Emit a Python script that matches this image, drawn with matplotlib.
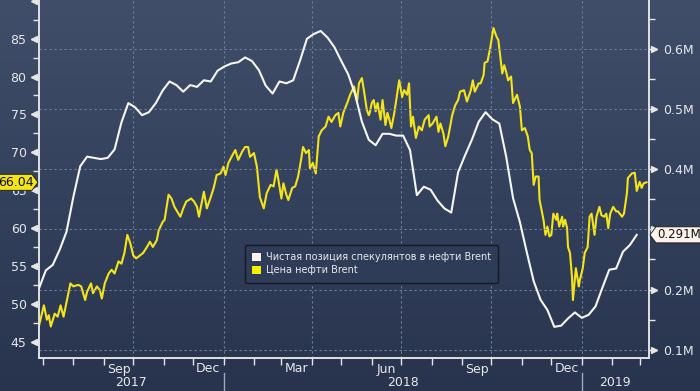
import numpy as np
import pandas as pd
import matplotlib
matplotlib.use('Agg')
import matplotlib.pyplot as plt
from matplotlib.patches import Patch, Polygon
from matplotlib.lines import Line2D
from matplotlib.ticker import MultipleLocator, FixedLocator, FuncFormatter
from matplotlib.transforms import blended_transform_factory, offset_copy, IdentityTransform
import matplotlib.dates as mdates

start = pd.Timestamp('2017-06-27')
x_end = pd.Timestamp('2019-03-10 12:00')

# net speculative position in Brent, weekly, millions of contracts
position = [0.202, 0.232, 0.241, 0.266, 0.296, 0.354, 0.405, 0.421, 0.419, 0.417,
            0.419, 0.433, 0.478, 0.510, 0.503, 0.490, 0.495, 0.510, 0.531, 0.546,
            0.540, 0.529, 0.540, 0.537, 0.548, 0.546, 0.564, 0.571, 0.576, 0.578,
            0.586, 0.580, 0.565, 0.539, 0.526, 0.546, 0.543, 0.548, 0.581, 0.617,
            0.625, 0.630, 0.619, 0.603, 0.580, 0.558, 0.525, 0.479, 0.449, 0.440,
            0.459, 0.459, 0.456, 0.456, 0.432, 0.357, 0.371, 0.366, 0.348, 0.335,
            0.328, 0.395, 0.423, 0.449, 0.479, 0.495, 0.483, 0.476, 0.421, 0.352,
            0.312, 0.262, 0.214, 0.183, 0.166, 0.138, 0.140, 0.152, 0.162, 0.153,
            0.158, 0.172, 0.203, 0.233, 0.235, 0.263, 0.274, 0.291]

# Brent price: days since start, USD
brent_day = [0, 5, 8, 10, 12, 16, 19, 22, 25, 32,
             35, 40, 43, 47, 49, 53, 55, 59, 62, 64,
             67, 71, 74, 77, 81, 84, 87, 90, 93, 96,
             99, 103, 106, 110, 113, 116, 120, 122, 126, 128,
             132, 135, 138, 144, 147, 150, 155, 158, 161, 163,
             168, 171, 174, 178, 181, 185, 188, 190, 193, 197,
             200, 203, 207, 210, 213, 215, 219, 222, 225, 229,
             232, 236, 239, 242, 244, 247, 249, 252, 254, 258,
             261, 264, 267, 269, 272, 275, 276, 279, 282, 285,
             288, 292, 295, 298, 302, 305, 307, 310, 314, 317,
             321, 324, 326, 329, 331, 334, 336, 337, 339, 341,
             343, 345, 348, 350, 353, 355, 357, 359, 362, 365,
             367, 370, 372, 375, 377, 379, 381, 384, 387, 390,
             393, 397, 398, 401, 405, 407, 409, 412, 414, 417,
             421, 424, 427, 429, 433, 436, 440, 442, 444, 448,
             450, 453, 454, 457, 460, 463, 466, 468, 470, 472,
             474, 476, 478, 481, 483, 487, 490, 492, 495, 498,
             500, 502, 504, 506, 509, 510, 512, 514, 516, 518,
             520, 522, 524, 527, 528, 530, 533, 534, 536, 538,
             539, 541, 543, 544, 547, 550, 551, 554, 556, 559,
             561, 563, 566, 568, 571, 573, 576, 578, 580, 582,
             585, 588, 590, 594, 596, 599, 600, 604, 607, 609,
             612, 614, 616, 619]
brent_price = [47.1, 49.8, 47.9, 48.5, 47.0, 48.7, 48.3, 49.8, 48.3, 52.7,
               52.3, 52.5, 52.3, 50.5, 51.6, 52.7, 51.4, 52.3, 51.8, 50.7,
               52.7, 54.0, 54.5, 54.0, 55.6, 55.3, 56.7, 59.1, 58.0, 56.4,
               56.0, 56.4, 56.7, 57.5, 58.2, 57.5, 58.4, 59.7, 60.8, 61.1,
               64.4, 63.9, 62.8, 61.5, 62.6, 63.5, 63.9, 63.5, 62.8, 61.5,
               64.8, 62.6, 63.7, 65.3, 67.0, 67.2, 68.1, 67.0, 68.6, 69.6,
               70.3, 69.0, 70.1, 70.7, 70.7, 69.4, 69.9, 68.1, 64.1, 62.6,
               64.6, 65.7, 65.5, 67.7, 66.3, 63.9, 65.9, 64.4, 63.7, 65.3,
               65.5, 66.8, 69.0, 70.7, 69.9, 70.3, 67.9, 68.6, 67.2, 72.1,
               72.9, 73.4, 74.7, 74.0, 74.9, 75.2, 73.4, 75.2, 76.5, 77.6,
               78.7, 76.7, 79.1, 79.8, 78.2, 75.6, 74.9, 75.2, 76.5, 76.9,
               75.4, 76.5, 74.3, 76.9, 73.6, 75.2, 74.3, 73.2, 75.2, 77.8,
               79.5, 77.3, 78.2, 77.6, 79.1, 73.4, 74.7, 71.9, 73.4, 72.9,
               74.3, 74.9, 73.4, 73.8, 74.7, 72.7, 73.8, 72.5, 70.8, 72.1,
               74.9, 76.2, 76.9, 78.0, 78.2, 76.7, 78.2, 79.5, 78.0, 79.1,
               79.1, 80.2, 81.8, 82.0, 84.0, 86.4, 85.3, 84.8, 82.6, 80.4,
               81.5, 80.6, 79.5, 80.0, 76.5, 77.6, 76.0, 72.9, 73.2, 72.1,
               70.3, 69.9, 65.7, 66.8, 66.8, 63.7, 62.4, 61.1, 59.1, 60.2,
               58.9, 59.1, 61.9, 61.1, 61.9, 60.2, 61.5, 60.2, 61.1, 60.0,
               57.5, 56.7, 53.6, 50.5, 54.7, 52.3, 53.1, 54.7, 56.7, 57.5,
               61.5, 61.9, 59.1, 61.5, 62.8, 61.7, 61.5, 61.9, 60.0, 61.9,
               62.8, 62.2, 62.2, 61.5, 61.9, 64.6, 66.6, 67.2, 67.3, 64.9,
               66.1, 65.3, 65.9, 66.04]

labels = ['Чистая позиция спекулянтов в нефти Brent', 'Цена нефти Brent']

pos_dates = pd.date_range(start, periods=len(position), freq='7D')
brent_dates = start + pd.to_timedelta(brent_day, unit='D')

W, H = 700, 391
TXT = '#e8e8ea'
YEL = '#f4e41a'
WHT = '#f6f6f6'

fig = plt.figure(figsize=(W / 100, H / 100), dpi=100)

# background gradient over whole figure
bg = fig.add_axes([0, 0, 1, 1])
top = np.array([64, 78, 106]) / 255
bot = np.array([40, 52, 78]) / 255
t = np.linspace(0, 1, 256)[:, None]
grad = (top * (1 - t) + bot * t)[:, None, :]
bg.imshow(grad, aspect='auto', extent=[0, 1, 0, 1])
bg.axis('off')

ax = fig.add_axes([39 / W, 33 / H, 610 / W, 358 / H])
ax2 = ax.twinx()
for a in (ax, ax2):
    a.patch.set_alpha(0)
    a.spines['top'].set_visible(False)
    for s in ('left', 'right', 'bottom'):
        a.spines[s].set_color('#e6e6e6')
        a.spines[s].set_linewidth(1.1)

ax.set_xlim(start, x_end)
ax.set_ylim(42.85, 90.1)
ax2.set_ylim(0.0862, 0.6815)

# grid: horizontal from right axis, vertical at quarter starts
ax2.yaxis.set_major_locator(MultipleLocator(0.1))
ax2.yaxis.set_minor_locator(MultipleLocator(0.05))
ax2.grid(axis='y', color='#6d809c', lw=0.8, ls=(0, (2, 2.5)))
for q in pd.date_range('2017-10-01', '2019-01-01', freq='QS'):
    ax.axvline(q, color='#6d809c', lw=0.8, ls=(0, (2, 2.5)), zorder=0)

ax.plot(brent_dates, brent_price, color=YEL, lw=1.5, zorder=3)
ax2.plot(pos_dates, position, color=WHT, lw=1.5, zorder=3)

# left axis
lticks = [45, 50, 55, 60, 65, 70, 75, 80, 85]
ax.yaxis.set_major_locator(FixedLocator(lticks))
ax.yaxis.set_minor_locator(MultipleLocator(2.5))
ax.tick_params(axis='y', which='major', length=6, width=1, color='#e6e6e6',
               labelsize=9, labelcolor=TXT, pad=3)
ax.tick_params(axis='y', which='minor', length=4, width=1, color='#e6e6e6')
ax.yaxis.set_major_formatter(FuncFormatter(lambda v, p: f'{v:.0f}'))

# right axis (0.3M label is hidden behind the last-value tag)
ax2.tick_params(axis='y', which='major', length=6, width=1, color='#e6e6e6',
                labelsize=9, labelcolor=TXT, pad=4)
ax2.tick_params(axis='y', which='minor', length=4, width=1, color='#e6e6e6')
ax2.yaxis.set_major_formatter(FuncFormatter(lambda v, p: '' if abs(v - 0.3) < 1e-6 else f'{v:.1f}M'))

# triangle markers on major ticks
lt = offset_copy(blended_transform_factory(ax.transAxes, ax.transData), fig=fig, x=-5, y=0, units='dots')
tri_l = lticks + [90]
ax.plot([0] * len(tri_l), tri_l, ls='none', marker='<', ms=4, color='#e6e6e6',
        transform=lt, clip_on=False)
rt = offset_copy(blended_transform_factory(ax2.transAxes, ax2.transData), fig=fig, x=5, y=0, units='dots')
rticks = [0.1, 0.2, 0.3, 0.4, 0.5, 0.6]
ax2.plot([1] * len(rticks), rticks, ls='none', marker='>', ms=4, color='#e6e6e6',
         transform=rt, clip_on=False)

# bottom axis: monthly ticks, quarter month names, years
ax.xaxis.set_major_locator(mdates.MonthLocator())
ax.xaxis.set_major_formatter(plt.NullFormatter())
ax.tick_params(axis='x', which='major', length=5, width=1, color='#e6e6e6')
ax2.tick_params(axis='x', length=0)

for m in pd.date_range('2017-07-01', '2019-03-01', freq='MS'):
    mid = m + (m + pd.offsets.MonthBegin(1) - m) / 2
    if m.month in (3, 6, 9, 12) and mid < x_end:
        ax.annotate(m.strftime('%b'), xy=(mid, 0), xycoords=('data', 'axes fraction'),
                    xytext=(0, -11), textcoords='offset pixels', ha='center', va='center',
                    fontsize=9, color=TXT, annotation_clip=False)

bounds = [start, pd.Timestamp('2018-01-01'), pd.Timestamp('2019-01-01'), x_end]
sep_t = blended_transform_factory(ax.transData, fig.transFigure)
for i, yr in enumerate(['2017', '2018', '2019']):
    mid = bounds[i] + (bounds[i + 1] - bounds[i]) / 2
    ax.annotate(yr, xy=(mid, 0), xycoords=('data', 'axes fraction'),
                xytext=(0, -25), textcoords='offset pixels', ha='center', va='center',
                fontsize=9, color=TXT, annotation_clip=False)
for b in bounds[1:3]:
    fig.add_artist(Line2D([mdates.date2num(b)] * 2, [0, 18 / H], transform=sep_t,
                          color='#a0a8b8', lw=1))

# legend
handles = [Patch(facecolor='#fff3f0', edgecolor='none'), Patch(facecolor='#f8ef00', edgecolor='none')]
leg = fig.legend(handles, labels, loc='upper left', bbox_to_anchor=(245 / W, 1 - 245 / H),
                 bbox_transform=fig.transFigure, borderaxespad=0, fontsize=7.0, labelcolor=TXT,
                 facecolor='#2f3c58', edgecolor='#141820', framealpha=1, fancybox=True,
                 handlelength=0.9, handleheight=0.9, handletextpad=0.5,
                 borderpad=0.75, labelspacing=0.3)
leg.get_frame().set_linewidth(1.0)

# last value tags
fig.canvas.draw()
def tag(yc, xs, fill, text, tx, ha, fs):
    pts = [(x, yc + dy) for x, dy in xs]
    fig.add_artist(Polygon(pts, closed=True, transform=IdentityTransform(),
                           facecolor=fill, edgecolor='#1a1a1a', lw=0.6, zorder=10))
    fig.text(tx, yc, text, transform=IdentityTransform(), ha=ha, va='center',
             fontsize=fs, color='#111111', zorder=11)

yl = ax.transData.transform((mdates.date2num(start), brent_price[-1]))[1]
tag(yl, [(-5, 8), (32, 8), (38, 0), (32, -8), (-5, -8)], YEL, f'{brent_price[-1]:.2f}', 34, 'right', 9)
yr_ = ax2.transData.transform((mdates.date2num(start), position[-1]))[1]
tag(yr_, [(705, 8), (656, 8), (650, 0), (656, -8), (705, -8)], '#fdf3ea', f'{position[-1]:.3f}M', 657, 'left', 8.5)

fig.savefig('out.png', dpi=100)
